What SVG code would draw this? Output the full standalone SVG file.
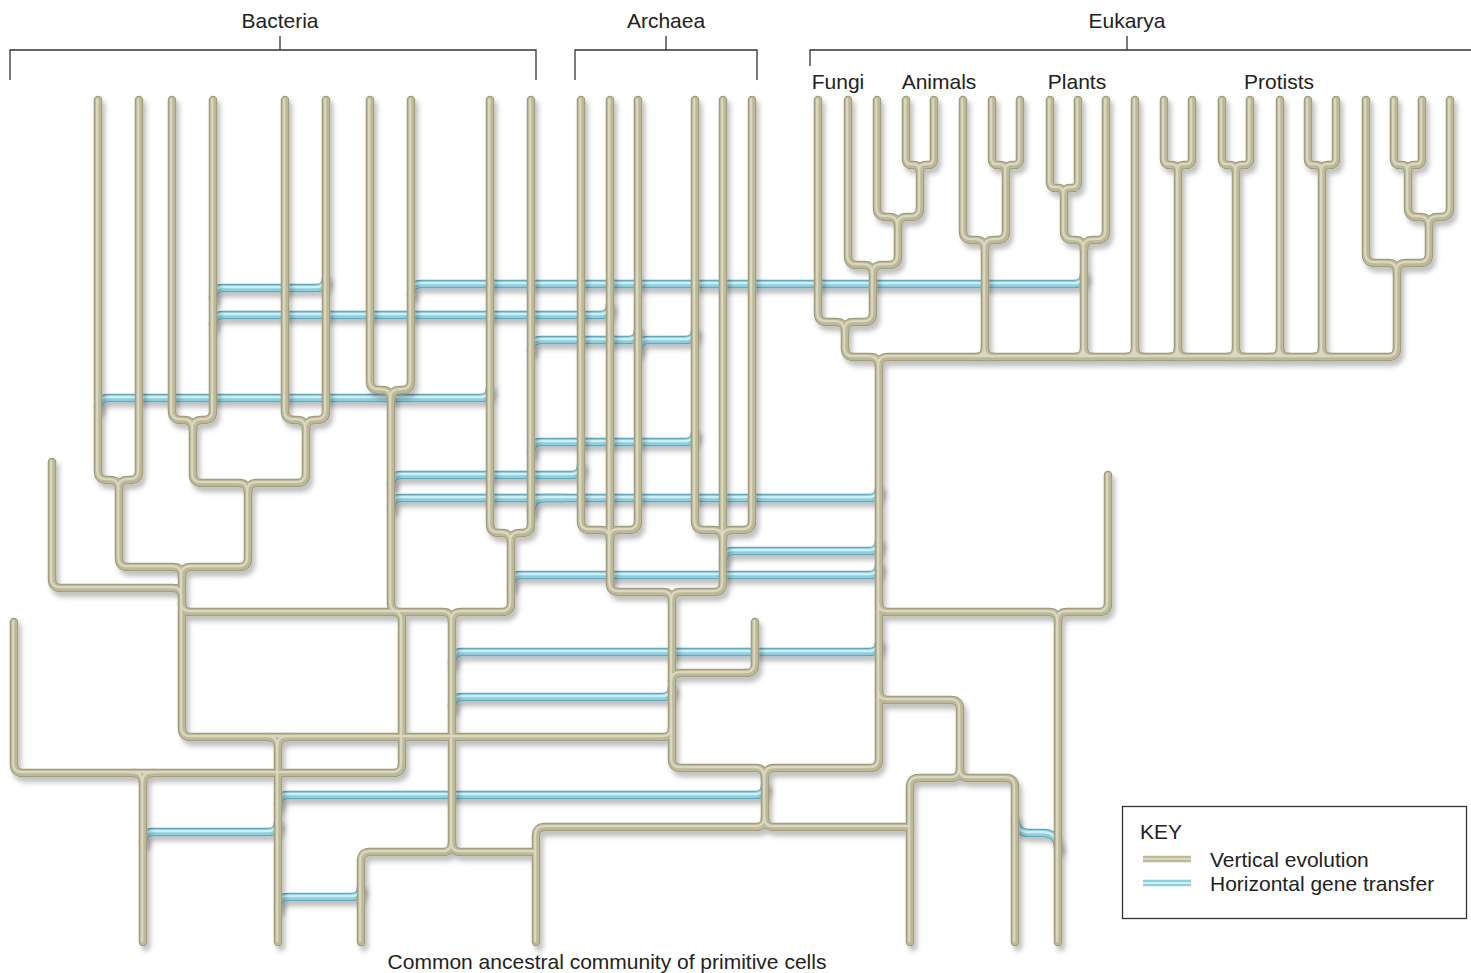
<svg xmlns="http://www.w3.org/2000/svg" xmlns:xlink="http://www.w3.org/1999/xlink" width="1471" height="973" viewBox="0 0 1471 973">
<style>
.t{fill:none;stroke-linecap:round;stroke-linejoin:round}
.ve{stroke:#9a9677;stroke-width:8.5;filter:url(#sh)}
.vm{stroke:#bdb996;stroke-width:6.5}
.vh{stroke:#dad8c2;stroke-width:2.2}
.he{stroke:#5a9db0;stroke-width:8.5;filter:url(#sh)}
.hm{stroke:#8fcfdd;stroke-width:6.5}
.hh{stroke:#cdf0f6;stroke-width:2.2}
.lbl{font-family:"Liberation Sans",Arial,sans-serif;font-size:21px;fill:#222}
.br{stroke:#333;stroke-width:1.3;fill:none}
</style>
<defs>
<filter id="sh" x="-5%" y="-5%" width="110%" height="110%">
<feDropShadow dx="3" dy="5" stdDeviation="2.5" flood-color="#000" flood-opacity="0.25"/>
</filter>
<g id="Vp">
<path d="M98,100 V471 Q98,480 107,480 H110 Q119,480 119,489"/>
<path d="M139,100 V471 Q139,480 130,480 H128 Q119,480 119,489"/>
<path d="M119,489 V558 Q119,567 128,567 H173 Q182,567 182,576"/>
<path d="M172,100 V411 Q172,420 181,420 H184 Q193,420 193,429"/>
<path d="M213,100 V411 Q213,420 204,420 H202 Q193,420 193,429"/>
<path d="M193,429 V474 Q193,483 202,483 H239 Q248,483 248,492"/>
<path d="M285,100 V411 Q285,420 294,420 H297 Q306,420 306,429"/>
<path d="M326,100 V411 Q326,420 317,420 H315 Q306,420 306,429"/>
<path d="M306,429 V474 Q306,483 297,483 H257 Q248,483 248,492"/>
<path d="M248,492 V558 Q248,567 239,567 H191 Q182,567 182,576"/>
<path d="M182,576 V728 Q182,737 191,737 H663 Q672,737 672,728"/>
<path d="M278,942 V747 Q278,737 268,737"/>
<path d="M278,747 Q278,737 288,737"/>
<path d="M52,462 V579 Q52,588 61,588 H173 Q182,588 182,597"/>
<path d="M182,603 Q182,612 191,612 H393 Q402,612 402,621 V764 Q402,773 393,773 H23 Q14,773 14,764 V622"/>
<path d="M143,942 V783 Q143,773 133,773"/>
<path d="M143,783 Q143,773 153,773"/>
<path d="M370,100 V381 Q370,390 379,390 H382 Q391,390 391,399"/>
<path d="M411,100 V381 Q411,390 402,390 H400 Q391,390 391,399"/>
<path d="M391,399 V603 Q391,612 400,612 H443 Q452,612 452,621"/>
<path d="M490,100 V524 Q490,533 499,533 H502 Q511,533 511,542"/>
<path d="M531,100 V524 Q531,533 522,533 H520 Q511,533 511,542"/>
<path d="M511,542 V603 Q511,612 502,612 H461 Q452,612 452,621"/>
<path d="M452,621 V843 Q452,852 443,852 H370 Q361,852 361,861 V942"/>
<path d="M452,843 Q452,852 461,852 H536"/>
<path d="M536,942 V836 Q536,827 545,827 H756 Q765,827 765,818"/>
<path d="M765,818 Q765,827 774,827 H910"/>
<path d="M765,818 V779"/>
<path d="M765,779 Q765,768 756,768 H681 Q672,768 672,759"/>
<path d="M765,779 Q765,768 774,768 H870 Q879,768 879,759"/>
<path d="M581,100 V521 Q581,530 590,530 H601 Q610,530 610,539"/>
<path d="M638,100 V521 Q638,530 629,530 H619 Q610,530 610,539"/>
<path d="M610,100 V583 Q610,592 619,592 H663 Q672,592 672,601"/>
<path d="M695,100 V521 Q695,530 704,530 H714 Q723,530 723,539"/>
<path d="M752,100 V521 Q752,530 743,530 H732 Q723,530 723,539"/>
<path d="M723,100 V583 Q723,592 714,592 H681 Q672,592 672,601"/>
<path d="M672,601 V759"/>
<path d="M672,682 Q672,673 681,673 H746 Q755,673 755,664 V622"/>
<path d="M879,366 V759"/>
<path d="M879,603 Q879,612 888,612 H1049 Q1058,612 1058,621 V942"/>
<path d="M1108,475 V603 Q1108,612 1099,612 H1067 Q1058,612 1058,621"/>
<path d="M879,691 Q879,700 888,700 H951 Q960,700 960,709 V769 Q960,778 951,778 H919 Q910,778 910,787 V942"/>
<path d="M960,769 Q960,778 969,778 H1006 Q1015,778 1015,787 V942"/>
<path d="M906,100 V159 Q906,165 912,165 H914 Q920,165 920,171"/>
<path d="M934,100 V159 Q934,165 928,165 H926 Q920,165 920,171"/>
<path d="M920,171 V208 Q920,217 911,217 H907 Q898,217 898,226"/>
<path d="M877,100 V208 Q877,217 886,217 H889 Q898,217 898,226"/>
<path d="M898,226 V256 Q898,265 889,265 H882 Q873,265 873,274"/>
<path d="M848,100 V256 Q848,265 857,265 H864 Q873,265 873,274"/>
<path d="M873,274 V313 Q873,322 864,322 H854 Q845,322 845,331"/>
<path d="M818,100 V313 Q818,322 827,322 H836 Q845,322 845,331"/>
<path d="M845,331 V348 Q845,357 854,357 H870 Q879,357 879,366"/>
<path d="M879,366 Q879,357 888,357 H1388 Q1397,357 1397,348"/>
<path d="M992,100 V159 Q992,165 998,165 H1000 Q1006,165 1006,171"/>
<path d="M1020,100 V159 Q1020,165 1014,165 H1012 Q1006,165 1006,171"/>
<path d="M1006,171 V231 Q1006,240 997,240 H994 Q985,240 985,249"/>
<path d="M963,100 V231 Q963,240 972,240 H976 Q985,240 985,249"/>
<path d="M985,249 V357 M976,357 Q985,357 985,348 Q985,357 994,357"/>
<path d="M1050,100 V182 Q1050,188 1056,188 H1058 Q1064,188 1064,194"/>
<path d="M1078,100 V182 Q1078,188 1072,188 H1070 Q1064,188 1064,194"/>
<path d="M1064,194 V231 Q1064,240 1073,240 H1075 Q1084,240 1084,249"/>
<path d="M1106,100 V231 Q1106,240 1097,240 H1093 Q1084,240 1084,249"/>
<path d="M1084,249 V357 M1075,357 Q1084,357 1084,348 Q1084,357 1093,357"/>
<path d="M1135,100 V357 M1126,357 Q1135,357 1135,348 Q1135,357 1144,357"/>
<path d="M1164,100 V159 Q1164,165 1170,165 H1172 Q1178,165 1178,171"/>
<path d="M1192,100 V159 Q1192,165 1186,165 H1184 Q1178,165 1178,171"/>
<path d="M1178,171 V357 M1169,357 Q1178,357 1178,348 Q1178,357 1187,357"/>
<path d="M1222,100 V159 Q1222,165 1228,165 H1230 Q1236,165 1236,171"/>
<path d="M1250,100 V159 Q1250,165 1244,165 H1242 Q1236,165 1236,171"/>
<path d="M1236,171 V357 M1227,357 Q1236,357 1236,348 Q1236,357 1245,357"/>
<path d="M1280,100 V357 M1271,357 Q1280,357 1280,348 Q1280,357 1289,357"/>
<path d="M1308,100 V159 Q1308,165 1314,165 H1316 Q1322,165 1322,171"/>
<path d="M1336,100 V159 Q1336,165 1330,165 H1328 Q1322,165 1322,171"/>
<path d="M1322,171 V357 M1313,357 Q1322,357 1322,348 Q1322,357 1331,357"/>
<path d="M1394,100 V159 Q1394,165 1400,165 H1402 Q1408,165 1408,171"/>
<path d="M1422,100 V159 Q1422,165 1416,165 H1414 Q1408,165 1408,171"/>
<path d="M1408,171 V208 Q1408,217 1417,217 H1420 Q1429,217 1429,226"/>
<path d="M1450,100 V208 Q1450,217 1441,217 H1438 Q1429,217 1429,226"/>
<path d="M1429,226 V254 Q1429,263 1420,263 H1406 Q1397,263 1397,272"/>
<path d="M1366,100 V254 Q1366,263 1375,263 H1388 Q1397,263 1397,272"/>
<path d="M1397,272 V348"/>
</g>
<g id="Hp">
<path d="M213,298 Q213,288 223,288 H316 Q326,288 326,278"/>
<path d="M213,325 Q213,315 223,315 H600 Q610,315 610,305"/>
<path d="M411,294 Q411,284 421,284 H1074 Q1084,284 1084,274"/>
<path d="M531,350 Q531,340 541,340 H628 Q638,340 638,330"/>
<path d="M638,350 Q638,340 648,340 H685 Q695,340 695,330"/>
<path d="M98,408 Q98,398 108,398 H480 Q490,398 490,388"/>
<path d="M531,452 Q531,442 541,442 H685 Q695,442 695,432"/>
<path d="M391,485 Q391,475 401,475 H571 Q581,475 581,465"/>
<path d="M391,508 Q391,498 401,498 H869 Q879,498 879,488"/>
<path d="M531,511 Q531,499 544,498 H565"/>
<path d="M723,561 Q723,551 733,551 H869 Q879,551 879,541"/>
<path d="M511,585 Q511,575 521,575 H869 Q879,575 879,565"/>
<path d="M452,662 Q452,652 462,652 H869 Q879,652 879,642"/>
<path d="M452,707 Q452,697 462,697 H662 Q672,697 672,687"/>
<path d="M278,805 Q278,795 288,795 H755 Q765,795 765,785"/>
<path d="M143,842 Q143,832 153,832 H268 Q278,832 278,822"/>
<path d="M278,907 Q278,897 288,897 H351 Q361,897 361,887"/>
<path d="M1015,818 Q1015,833 1030,833 H1043 Q1058,833 1058,848"/>
</g>
<path id="keyLine" d="M1143,0 H1191"/>
</defs>
<rect width="1471" height="973" fill="#ffffff"/>
<g id="connectors">
<use href="#Hp" class="t he"/>
<use href="#Hp" class="t hm"/>
<use href="#Hp" class="t hh" transform="translate(-0.8,-0.8)"/>
<use href="#Vp" class="t ve"/>
<use href="#Vp" class="t vm"/>
<use href="#Vp" class="t vh" transform="translate(-0.8,-0.8)"/>
</g>
<g id="bacteria">
<text class="lbl" x="280" y="28" text-anchor="middle">Bacteria</text>
<path class="br" d="M280,36 V50 M10,80 V50 H536 V80"/>
</g>
<g id="archaea">
<text class="lbl" x="666" y="28" text-anchor="middle">Archaea</text>
<path class="br" d="M666,36 V50 M575,80 V50 H757 V80"/>
</g>
<g id="eukarya">
<text class="lbl" x="1127" y="28" text-anchor="middle">Eukarya</text>
<path class="br" d="M1127,36 V50 M810,66 V50 H1471"/>
<text class="lbl" x="838" y="89" text-anchor="middle">Fungi</text>
<text class="lbl" x="939" y="89" text-anchor="middle">Animals</text>
<text class="lbl" x="1077" y="89" text-anchor="middle">Plants</text>
<text class="lbl" x="1279" y="89" text-anchor="middle">Protists</text>
</g>
<g id="ancestor">
<text class="lbl" x="607" y="969" text-anchor="middle">Common ancestral community of primitive cells</text>
</g>
<g id="key">
<rect x="1122.5" y="806.5" width="344" height="112" fill="#fff" stroke="#333" stroke-width="1.3"/>
<text class="lbl" x="1140" y="839">KEY</text>
<g transform="translate(0,859)">
<use href="#keyLine" class="t ve" style="stroke-linecap:butt"/>
<use href="#keyLine" class="t vm" style="stroke-linecap:butt"/>
<use href="#keyLine" class="t vh" style="stroke-linecap:butt"/>
</g>
<g transform="translate(0,883)">
<use href="#keyLine" class="t he" style="stroke-linecap:butt"/>
<use href="#keyLine" class="t hm" style="stroke-linecap:butt"/>
<use href="#keyLine" class="t hh" style="stroke-linecap:butt"/>
</g>
<text class="lbl" x="1210" y="867">Vertical evolution</text>
<text class="lbl" x="1210" y="891">Horizontal gene transfer</text>
</g>
</svg>
